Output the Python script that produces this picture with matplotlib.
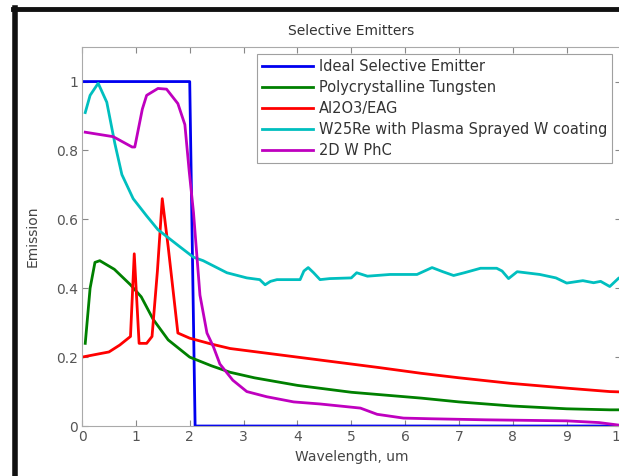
import matplotlib.pyplot as plt
from matplotlib.lines import Line2D

plt.rcParams['font.family'] = ['DejaVu Sans']

# Ideal selective emitter (step)
ideal_x = [0.0, 2.0, 2.1, 10.0]
ideal_y = [1.0, 1.0, 0.0, 0.0]

# Polycrystalline tungsten
tung_x = [0.06, 0.15, 0.24, 0.33, 0.6, 0.9, 1.1, 1.32, 1.6, 2.0, 2.4, 2.75, 3.2, 4.0, 5.0, 6.3, 7.0, 8.0, 9.0, 9.8, 10.0]
tung_y = [0.24, 0.40, 0.475, 0.48, 0.455, 0.41, 0.375, 0.31, 0.25, 0.20, 0.175, 0.156, 0.14, 0.118, 0.098, 0.081, 0.07, 0.058, 0.05, 0.047, 0.047]

# Al2O3/EAG
eag_x = [0.0, 0.33, 0.5, 0.7, 0.9, 0.97, 1.06, 1.2, 1.3, 1.4, 1.49, 1.6, 1.78, 2.0, 2.4, 2.75, 3.5, 4.5, 5.5, 6.3, 7.0, 7.95, 9.0, 9.8, 10.0]
eag_y = [0.2, 0.21, 0.215, 0.235, 0.26, 0.50, 0.24, 0.24, 0.26, 0.45, 0.66, 0.52, 0.27, 0.255, 0.238, 0.225, 0.21, 0.19, 0.17, 0.153, 0.14, 0.124, 0.11, 0.1, 0.099]

# W25Re with plasma sprayed W coating
w25_x = [0.06, 0.15, 0.3, 0.46, 0.61, 0.74, 0.95, 1.2, 1.41, 1.82, 2.07, 2.25, 2.69, 3.06, 3.3, 3.4, 3.5, 3.62, 4.05, 4.12, 4.2, 4.3, 4.42, 4.6, 5.0, 5.1, 5.3,
         5.72, 6.22, 6.5, 6.7, 6.9, 7.1, 7.4, 7.7, 7.8, 7.92, 8.08, 8.5, 8.8, 9.0, 9.3, 9.5, 9.63, 9.8, 9.97, 10.0]
w25_y = [0.91, 0.96, 0.995, 0.94, 0.82, 0.73, 0.66, 0.61, 0.57, 0.52, 0.49, 0.48, 0.445, 0.43, 0.425, 0.41, 0.42, 0.425, 0.425, 0.45, 0.46, 0.445, 0.425, 0.428, 0.43, 0.445, 0.435,
         0.44, 0.44, 0.46, 0.448, 0.437, 0.445, 0.458, 0.458, 0.45, 0.428, 0.448, 0.44, 0.43, 0.415, 0.422, 0.416, 0.42, 0.405, 0.43, 0.43]

# 2D W PhC
phc_x = [0.06, 0.58, 0.93, 0.98, 1.12, 1.2, 1.41, 1.57, 1.78, 1.91, 1.99, 2.07, 2.19, 2.32, 2.44, 2.56, 2.8, 3.06, 3.43, 3.93, 4.42, 5.17, 5.48, 5.97, 6.5, 7.5, 8.5, 9.0, 9.6, 9.95]
phc_y = [0.853, 0.84, 0.81, 0.81, 0.92, 0.96, 0.98, 0.978, 0.936, 0.875, 0.74, 0.62, 0.38, 0.27, 0.23, 0.18, 0.133, 0.10, 0.085, 0.07, 0.064, 0.052, 0.034, 0.023, 0.021, 0.018, 0.016, 0.015, 0.01, 0.003]

labels = ['Ideal Selective Emitter', 'Polycrystalline Tungsten', 'Al2O3/EAG',
          'W25Re with Plasma Sprayed W coating', '2D W PhC']
colors = ['#0000f0', '#008000', '#ff0000', '#00bfbf', '#bf00bf']

fig = plt.figure(figsize=(6.19, 4.76), dpi=100)
ax = fig.add_axes([0.1325, 0.105, 0.87, 0.796])

ax.plot(ideal_x, ideal_y, color=colors[0], lw=2.0, label=labels[0])
ax.plot(tung_x, tung_y, color=colors[1], lw=2.0, label=labels[1])
ax.plot(eag_x, eag_y, color=colors[2], lw=2.0, label=labels[2])
ax.plot(w25_x, w25_y, color=colors[3], lw=2.0, label=labels[3])
ax.plot(phc_x, phc_y, color=colors[4], lw=2.0, label=labels[4])

ax.set_xlim(0, 10)
ax.set_ylim(0, 1.1)
ax.set_xticks(range(0, 11))
ax.set_yticks([0, 0.2, 0.4, 0.6, 0.8, 1.0])
ax.set_yticklabels(['0', '0.2', '0.4', '0.6', '0.8', '1'])
ax.tick_params(direction='in', top=True, right=True, length=4, labelsize=10,
               colors='#888888', labelcolor='#555555', pad=3)
for s in ax.spines.values():
    s.set_color('#aaaaaa')

ax.set_title('Selective Emitters', fontsize=10, color='#333333', pad=9)
ax.set_xlabel('Wavelength, um', fontsize=10, color='#444444', labelpad=4)
ax.set_ylabel('Emission', fontsize=10, color='#444444', labelpad=12)

leg = ax.legend(loc='upper right', bbox_to_anchor=(0.985, 0.983), fontsize=10.5,
                frameon=True, fancybox=False, borderaxespad=0, handlelength=3.5,
                labelspacing=0.42, borderpad=0.35, handletextpad=0.4)
leg.get_frame().set_edgecolor('#888888')
leg.get_frame().set_linewidth(0.8)
for t in leg.get_texts():
    t.set_color('#333333')

# black window edge on left and top
fig.add_artist(Line2D([14.5 / 619, 14.5 / 619], [0, 1 - 8 / 476], color='#111111', lw=4, transform=fig.transFigure))
fig.add_artist(Line2D([12.5 / 619, 1], [1 - 9 / 476, 1 - 9 / 476], color='#111111', lw=3.5, transform=fig.transFigure))

fig.savefig('out.png', dpi=100)
